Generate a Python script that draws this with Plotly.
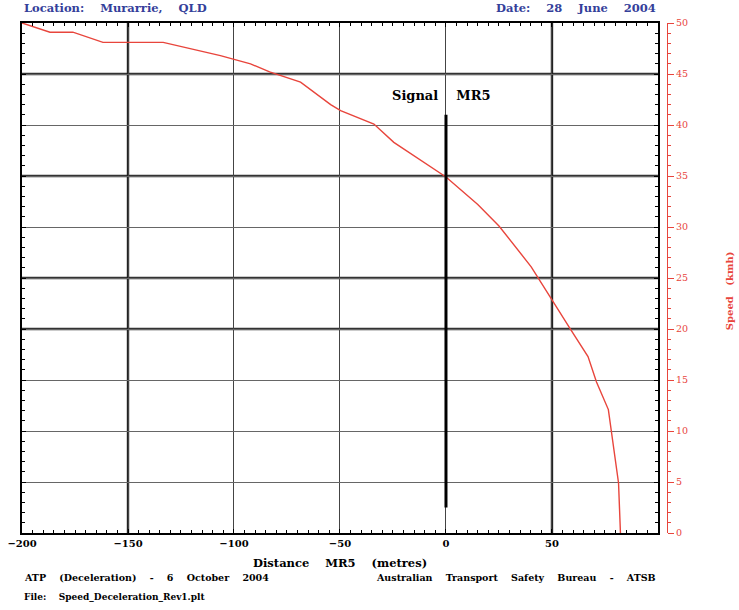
import plotly.graph_objects as go

# ---- data ----
distance_m = [-200, -186.8, -176, -161.8, -133.4, -106.4, -92.2, -83.2, -68.6, -54.4, -49.7,
              -34, -24.6, -0.9, 0, 15, 25, 40.2, 43.5, 50.6, 59, 67, 71, 76.6, 78, 81.4, 82.3]
speed_kmh = [50, 49.1, 49.1, 48.1, 48.1, 46.8, 46.0, 45.2, 44.2, 42.0, 41.4,
             40.1, 38.3, 35.0, 34.9, 32.2, 30.1, 26.1, 25.0, 22.6, 19.9, 17.3, 14.8, 12.1, 9.9, 4.9, 0]

signal_x = [0, 0]
signal_y = [2.5, 41]

x_ticks = [-200, -150, -100, -50, 0, 50]
y_grid = [5, 10, 15, 20, 25, 30, 35, 40, 45]
y_thick = [45, 35, 25, 20]
x_thick = [-150, 50]
speed_ticks = [0, 5, 10, 15, 20, 25, 30, 35, 40, 45, 50]

RED = "#e8453c"
BLUE = "#34409a"
FONT = "DejaVu Serif"
SP = "\u00a0\u00a0\u00a0\u00a0"

def sp(*words):
    return SP.join(words)

fig = go.Figure()

fig.add_trace(go.Scatter(x=distance_m, y=speed_kmh, mode="lines",
                         line=dict(color=RED, width=1.4), showlegend=False, hoverinfo="skip"))
fig.add_trace(go.Scatter(x=signal_x, y=signal_y, mode="lines",
                         line=dict(color="black", width=3), showlegend=False, hoverinfo="skip"))
fig.add_trace(go.Scatter(x=[-200], y=[0], yaxis="y2", mode="markers",
                         marker=dict(opacity=0), showlegend=False, hoverinfo="skip"))

shapes = []
for v in y_thick:
    shapes.append(dict(type="line", xref="x", yref="y", x0=-200, x1=100, y0=v, y1=v,
                       line=dict(color="#333333", width=2.4), layer="below"))
for v in x_thick:
    shapes.append(dict(type="line", xref="x", yref="y", x0=v, x1=v, y0=0, y1=50,
                       line=dict(color="#222222", width=2.4), layer="below"))

def ann(text, x, y, xanchor, size, color, xref="paper", yref="paper", angle=0):
    return dict(text="<b>" + text + "</b>", xref=xref, yref=yref, x=x, y=y,
                xanchor=xanchor, yanchor="middle", showarrow=False, textangle=angle,
                font=dict(family=FONT, size=size, color=color))

annotations = [
    ann(sp("Location:", "Murarrie,", "QLD"), 0, 1.029, "left", 11.5, BLUE),
    ann(sp("Date:", "28", "June", "2004"), 0.986, 1.029, "right", 11.5, BLUE),
    ann(sp("Distance", "MR5", "(metres)"), 0.493, -0.059, "center", 11.5, "black"),
    ann(sp("ATP", "(Deceleration)", "-", "6", "October", "2004"), 0, -0.088, "left", 9.5, "black"),
    ann(sp("Australian", "Transport", "Safety", "Bureau", "-", "ATSB"), 0.986, -0.088, "right", 9.5, "black"),
    ann(sp("File:", "Speed_Deceleration_Rev1.plt"), 0, -0.125, "left", 9, "black"),
    ann("Speed\u00a0\u00a0\u00a0(kmh)", 1.096, 0.476, "center", 10, RED, angle=-90),
    ann(sp("Signal", "MR5"), -2, 42.9, "center", 13, "black", xref="x", yref="y"),
]

fig.update_layout(
    width=739, height=610,
    margin=dict(l=22, r=72, t=23, b=77, autoexpand=False),
    paper_bgcolor="white", plot_bgcolor="white",
    shapes=shapes, annotations=annotations,
    xaxis=dict(range=[-200, 100], domain=[0, 0.986], tickvals=x_ticks, automargin=False,
               ticklabeloverflow="allow",
               showgrid=True, gridcolor="#444444", gridwidth=1,
               showline=True, linecolor="black", linewidth=1.5, mirror="ticks",
               ticks="inside", ticklen=4, tickcolor="black",
               minor=dict(dtick=5, ticks="inside", ticklen=3, tickcolor="black", showgrid=False),
               tickfont=dict(family=FONT, size=10, color="black", weight="bold"),
               zeroline=False, fixedrange=True),
    yaxis=dict(range=[0, 50], tickvals=y_grid, showticklabels=False, automargin=False,
               showgrid=True, gridcolor="#666666", gridwidth=1.4,
               showline=True, linecolor="black", linewidth=1.5, mirror="ticks",
               ticks="inside", ticklen=4, tickcolor="black",
               minor=dict(dtick=1, ticks="inside", ticklen=3, tickcolor="black", showgrid=False),
               zeroline=False, fixedrange=True),
    yaxis2=dict(range=[0, 50], overlaying="y", side="right", anchor="free", position=1.0,
                automargin=False, ticklabeloverflow="allow",
                tickvals=speed_ticks, showgrid=False, zeroline=False,
                showline=True, linecolor=RED, linewidth=1,
                ticks="outside", ticklen=6, tickcolor=RED,
                minor=dict(dtick=1, ticks="outside", ticklen=3, tickcolor=RED),
                tickfont=dict(family=FONT, size=9.5, color=RED), fixedrange=True),
)

fig.write_html("out.html", config={"displayModeBar": False},
               post_script="document.body.style.margin='0px';document.body.style.overflow='hidden';")
